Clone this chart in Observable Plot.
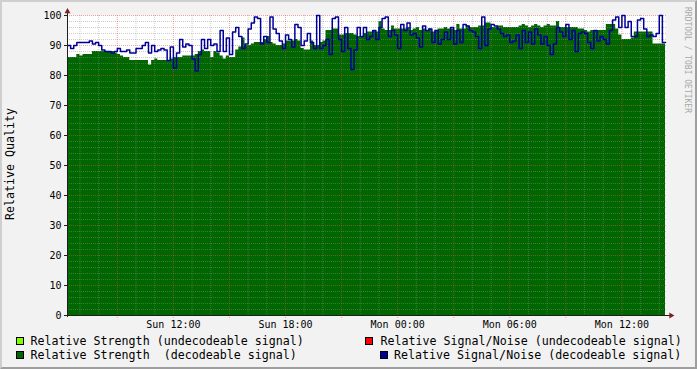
<!DOCTYPE html>
<html><head><meta charset="utf-8">
<script src="https://cdn.jsdelivr.net/npm/d3@7"></script>
<script src="https://cdn.jsdelivr.net/npm/@observablehq/plot@0.6"></script>
<style>
body{margin:0;background:#f2f2f2;}
#wrap{position:relative;width:697px;height:369px;background:#f2f2f2;overflow:hidden;font-family:"DejaVu Sans Mono",monospace;}
#chart{position:absolute;left:0;top:0;}
.shade{position:absolute;left:0;top:0;width:697px;height:369px;box-sizing:border-box;border-top:2px solid #cfcfcf;border-left:2px solid #cfcfcf;border-bottom:2px solid #9e9e9e;border-right:2px solid #9e9e9e;pointer-events:none;}
.lg{position:absolute;font-size:11.65px;white-space:pre;line-height:1;color:#000;}
.sw{position:absolute;width:8px;height:8px;box-sizing:border-box;border:1px solid #000;}
#ylab{position:absolute;left:11px;top:164px;transform:translate(-50%,-50%) rotate(-90deg);font-size:11.65px;white-space:pre;line-height:1;}
#wm{position:absolute;left:687px;top:60px;transform:translate(-50%,-50%) rotate(90deg);font-size:8px;color:#a8a8a8;white-space:pre;line-height:1;}
</style></head>
<body>
<div id="wrap">
  <div id="chart"></div>
  <div id="ylab">Relative Quality</div>
  <div id="wm">RRDTOOL / TOBI OETIKER</div>
  <div class="sw" style="left:16px;top:337px;background:#80ff00"></div>
  <div class="lg" style="left:30.5px;top:336px">Relative Strength (undecodeable signal)</div>
  <div class="sw" style="left:16px;top:351px;background:#006600"></div>
  <div class="lg" style="left:30.5px;top:349.8px">Relative Strength  (decodeable signal)</div>
  <div class="sw" style="left:365px;top:337px;background:#ff0000"></div>
  <div class="lg" style="left:380.5px;top:336px">Relative Signal/Noise (undecodeable signal)</div>
  <div class="sw" style="left:379.5px;top:351px;background:#000099"></div>
  <div class="lg" style="left:394px;top:349.8px">Relative Signal/Noise (decodeable signal)</div>
  <div class="shade"></div>
</div>
<script>
// 10-minute samples, Sun 06:20 -> Mon 14:20
const strength = [
 86, 86, 86, 87, 86.5, 87, 87, 87, 88, 88, 88, 88,
 88, 88, 88, 87.5, 87, 86.5, 86, 86, 85, 85, 85, 85,
 85, 85, 83.5, 85, 85.5, 85, 85, 85, 85, 85.5, 86, 86,
 86, 86.5, 86.5, 86.5, 86.5, 87, 88, 88.5, 88, 88, 86, 88,
 87.5, 86.5, 85.5, 86.5, 86, 86, 88.5, 89.5, 92.5, 90, 90, 90.5,
 91, 91, 91, 92, 93, 91, 90.5, 90, 90, 90.5, 91.5, 91.5,
 91.5, 92, 91.5, 89, 88.5, 88.5, 91.5, 90, 90, 91, 91.5, 95,
 95, 95.5, 95.5, 93.5, 93.5, 94, 94, 94, 93.5, 93, 93, 94,
 94.5, 94.5, 95, 94.5, 98, 95.5, 95, 95, 96.5, 95.5, 95.5, 95.5,
 95.5, 96, 95, 95.5, 96, 95, 95.5, 95, 95.5, 94.5, 95, 95.5,
 95.5, 96, 95.5, 95.5, 95, 97, 95.5, 95.5, 96.5, 96, 96, 96,
 96.5, 96.5, 97.5, 97.5, 96, 96, 96.5, 96.5, 96, 96, 96, 96,
 96, 96.5, 97, 96.5, 96, 96.5, 97, 96.5, 96, 96.5, 97, 96.5,
 96.5, 98, 96, 96, 96, 96, 96, 96, 95.5, 95.5, 95, 94.5,
 95, 95, 95, 95, 95, 97, 97, 97, 95.5, 93.5, 92, 92,
 92, 92.5, 94.5, 94.5, 94.5, 94.5, 94.5, 94.5, 90.5, 90.5, 90.5, 90.5
];
const snr = [
 90, 89, 90, 91, 91, 91, 91, 91.5, 90.5, 91, 90, 88.5,
 88, 88, 87.5, 88, 89, 88, 88, 88.5, 87.5, 87.5, 89, 89,
 90, 91, 87.5, 90, 88, 88.5, 89, 88.5, 85, 89.5, 82.5, 87.5,
 92, 89.5, 90.5, 90, 85.5, 81.5, 87, 92, 89, 92, 90, 90.5,
 88, 95, 88, 92.5, 87, 94.5, 96, 93, 89, 90.5, 95.5, 97.5,
 99.5, 99, 90.5, 93, 91, 99.5, 95.5, 94, 91.5, 89, 93.5, 92,
 89.5, 97, 96, 90, 91.5, 94, 91, 89, 100, 89, 90, 92,
 87, 99, 99.5, 92, 88, 96, 89, 82, 88.5, 96, 93, 96,
 92, 93, 95, 92, 96, 99, 99.5, 93, 95, 93.5, 89, 97,
 95, 97.5, 93.5, 94, 92.5, 89.5, 96.5, 95, 95.5, 91, 95, 90.5,
 92, 94.5, 92, 96, 90.5, 95, 91, 97, 96.5, 95, 94.5, 93,
 89, 99.5, 90, 95.5, 97, 96.5, 95.5, 94, 93, 93.5, 91, 91.5,
 93.5, 89, 95, 91, 94.5, 90.5, 95.5, 93.5, 90.5, 93, 90, 87,
 90.5, 96, 94.5, 93, 97, 92, 95, 88, 94, 94.5, 94, 91,
 89, 95, 91.5, 93, 92, 90.5, 95, 98.5, 99.5, 96, 100, 96,
 98, 93, 93, 98.5, 99, 95.5, 93, 93.5, 93, 94, 100, 91
];
const xLabels = ["Sun 12:00", "Sun 18:00", "Mon 00:00", "Mon 06:00", "Mon 12:00"];
const xLabelTimes = [Date.UTC(2009,4,3,12), Date.UTC(2009,4,3,18), Date.UTC(2009,4,4,0), Date.UTC(2009,4,4,6), Date.UTC(2009,4,4,12)];
const yTicks = [0, 10, 20, 30, 40, 50, 60, 70, 80, 90, 100];
const yLabels = ["0", "10", "20", "30", "40", "50", "60", "70", "80", "90", "100"];

const start = Date.UTC(2009,4,3,6,20);
const end = Date.UTC(2009,4,4,14,20);
const stepMs = 10*60*1000;

const rows = strength.map((s,i)=>({t:new Date(start+i*stepMs), s, n:snr[i]}));
rows.push({t:new Date(end), s:strength[strength.length-1], n:snr[snr.length-1]});

const hours = d3.utcHour.range(new Date(start), new Date(end));
const hMajor = hours.filter(d=>d.getUTCHours()%3===0);
const hMinor = hours.filter(d=>d.getUTCHours()%3!==0);
const yMajor = d3.range(10,101,10);
const yMinor = d3.range(2,100,2).filter(v=>v%10!==0);
const xTickDates = xLabelTimes.map(t=>new Date(t));
const xFmt = d => { const k = xLabelTimes.indexOf(+d); return k>=0 ? xLabels[k] : ""; };
const yFmt = d => { const k = yTicks.indexOf(+d); return k>=0 ? yLabels[k] : ""; };

const gridStyle = {stroke:"#8f8f8f", strokeOpacity:0.45, strokeDasharray:"1,1"};
const mgridStyle = {stroke:"#de4f4f", strokeOpacity:0.5, strokeDasharray:"1,1"};

const chart = Plot.plot({
  width:697, height:369,
  marginLeft:67, marginRight:32, marginTop:15, marginBottom:54,
  style:{background:"transparent", fontFamily:"DejaVu Sans Mono", fontSize:"10px", color:"#000", overflow:"visible"},
  x:{type:"utc", domain:[new Date(start), new Date(end)]},
  y:{domain:[0,100]},
  marks:[
    Plot.frame({fill:"#ffffff", stroke:null}),
    Plot.areaY(rows,{x:"t", y:"s", curve:"step-after", fill:"#006600"}),
    Plot.ruleY(yMinor,{...gridStyle, insetRight:-2}),
    Plot.ruleX(hMinor,{...gridStyle, insetBottom:-2}),
    Plot.ruleY(yMajor,{...mgridStyle, insetRight:-2}),
    Plot.ruleX(hMajor,{...mgridStyle, insetBottom:-3}),
    Plot.line(rows,{x:"t", y:"n", curve:"step-after", stroke:"#000099", strokeWidth:1.5}),
    Plot.ruleX([new Date(start)],{stroke:"#1f1f1f", insetTop:-4, insetBottom:-2}),
    Plot.ruleY([0],{stroke:"#1f1f1f", insetRight:-5}),
    Plot.dot([{t:new Date(start), v:100}],{x:"t", y:"v", symbol:"triangle", r:2.2, fill:"#801f1f", stroke:null, dy:-4}),
    Plot.dot([{t:new Date(end), v:0}],{x:"t", y:"v", symbol:"triangle", r:2.2, fill:"#801f1f", stroke:null, dx:5.5, rotate:90}),
    Plot.axisY(yTicks,{tickSize:3, tickPadding:3, label:null, stroke:"#1f1f1f", tickFormat:yFmt}),
    Plot.axisX(xTickDates,{tickSize:0, tickPadding:5, label:null, tickFormat:xFmt})
  ]
});
document.getElementById("chart").appendChild(chart);
</script>
</body></html>
